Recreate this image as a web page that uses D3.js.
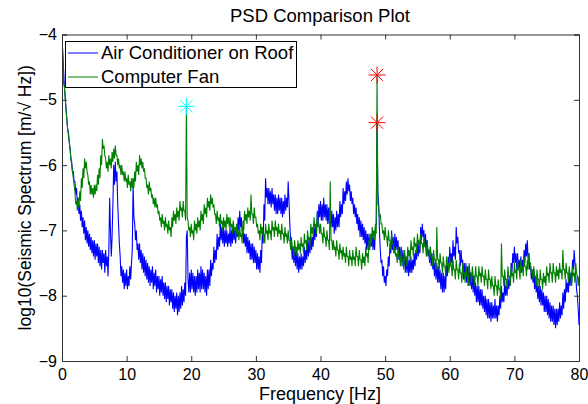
<!DOCTYPE html>
<html><head><meta charset="utf-8">
<script src="https://cdn.jsdelivr.net/npm/d3@7"></script>
<style>body{margin:0;background:#fff}svg{display:block}text{font-family:"Liberation Sans",Arial,Helvetica,sans-serif}</style>
</head><body><svg id="c" width="588" height="404"></svg>
<script>
// ---- data (0.125 Hz resolution) ----
const freqStep = 0.125;
const airConditioner = [
-4.0,-4.3,-4.55,-4.8,-4.95,-5.15,-5.3,-5.45,
-5.5,-5.65,-5.75,-5.9,-5.95,-6.1,-6.1,-6.25,
-6.25,-6.45,-6.35,-6.6,-6.5,-6.75,-6.6,-6.85,
-6.7,-6.95,-6.8,-7.05,-6.85,-7.15,-6.95,-7.2,
-7.0,-7.25,-7.05,-7.3,-7.1,-7.35,-7.15,-7.4,
-7.15,-7.45,-7.2,-7.4,-7.2,-7.5,-7.25,-7.55,
-7.3,-7.6,-7.3,-7.5,-7.35,-7.65,-7.3,-7.55,
-7.4,-7.7,-7.3,-6.5,-7.0,-7.4,-7.1,-6.6,
-6.0,-6.3,-5.95,-6.25,-6.1,-6.6,-6.9,-7.2,
-7.4,-7.7,-7.55,-7.8,-7.6,-7.9,-7.65,-7.85,
-7.6,-7.9,-7.7,-7.85,-7.55,-7.75,-7.5,-7.3,
-6.3,-6.8,-6.9,-7.15,-7.0,-7.3,-7.2,-7.45,
-7.2,-7.5,-7.3,-7.6,-7.35,-7.65,-7.4,-7.7,
-7.45,-7.75,-7.5,-7.8,-7.55,-7.85,-7.6,-7.8,
-7.55,-7.9,-7.65,-7.85,-7.6,-7.95,-7.7,-7.9,
-7.7,-8.0,-7.75,-7.95,-7.7,-8.0,-7.8,-8.05,
-7.8,-8.1,-7.85,-8.05,-7.85,-8.15,-7.9,-8.1,
-7.9,-8.2,-7.95,-8.25,-8.0,-8.2,-7.95,-8.3,
-8.0,-8.25,-7.95,-8.2,-7.85,-8.15,-7.9,-8.1,
-7.8,-8.0,-7.1,-7.0,-7.75,-7.95,-7.65,-7.95,
-7.6,-7.9,-7.65,-7.95,-7.7,-8.0,-7.7,-7.95,
-7.6,-7.9,-7.65,-7.95,-7.55,-7.9,-7.6,-7.9,
-7.65,-7.95,-7.7,-8.0,-7.6,-7.9,-7.6,-7.85,
-7.45,-7.7,-7.5,-7.6,-7.25,-7.5,-7.3,-7.45,
-7.05,-7.3,-7.1,-7.25,-6.9,-7.15,-6.95,-7.2,
-6.95,-7.25,-7.0,-7.2,-7.0,-7.25,-7.05,-7.2,
-6.95,-7.25,-7.0,-7.2,-6.9,-7.15,-6.95,-7.2,
-6.95,-7.1,-6.8,-7.0,-6.7,-6.95,-6.8,-7.05,
-6.95,-7.2,-7.05,-7.25,-7.05,-7.35,-7.1,-7.35,
-7.15,-7.45,-7.2,-7.45,-7.2,-7.5,-7.25,-7.5,
-7.3,-7.6,-7.35,-7.6,-7.4,-7.65,-7.3,-7.5,
-7.0,-7.2,-6.6,-6.85,-6.2,-6.5,-6.35,-6.6,
-6.35,-6.6,-6.4,-6.65,-6.35,-6.6,-6.45,-6.7,
-6.45,-6.75,-6.5,-6.75,-6.45,-6.7,-6.5,-6.75,
-6.5,-6.8,-6.55,-6.75,-6.45,-6.7,-6.5,-6.65,
-6.25,-6.55,-6.9,-7.15,-7.2,-7.45,-7.25,-7.5,
-7.25,-7.55,-7.3,-7.6,-7.35,-7.65,-7.4,-7.6,
-7.35,-7.6,-7.4,-7.55,-7.25,-7.5,-7.3,-7.45,
-7.1,-7.4,-7.15,-7.35,-7.05,-7.3,-7.1,-7.25,
-6.9,-7.15,-6.95,-7.1,-6.7,-6.95,-6.6,-6.8,
-6.55,-6.85,-6.6,-6.85,-6.5,-6.8,-6.6,-6.85,
-6.6,-6.9,-6.65,-6.9,-6.65,-6.95,-6.7,-6.95,
-6.75,-7.05,-6.8,-7.0,-6.7,-6.95,-6.75,-6.95,
-6.55,-6.8,-6.6,-6.75,-6.35,-6.6,-6.4,-6.55,
-6.25,-6.45,-6.2,-6.4,-6.3,-6.55,-6.4,-6.6,
-6.5,-6.75,-6.6,-6.8,-6.65,-6.9,-6.75,-7.0,
-6.8,-7.1,-6.85,-7.1,-6.9,-7.15,-6.95,-7.2,
-7.0,-7.3,-7.05,-7.3,-7.05,-7.25,-7.1,-7.25,
-7.05,-7.3,-7.1,-7.3,-6.95,-6.9,-5.35,-6.4,
-6.6,-7.0,-7.3,-7.5,-7.45,-7.7,-7.55,-7.8,
-7.7,-7.85,-7.6,-7.7,-7.4,-7.55,-7.2,-7.35,
-7.0,-7.3,-7.1,-7.35,-7.05,-7.3,-7.1,-7.3,
-7.15,-7.45,-7.25,-7.5,-7.25,-7.55,-7.3,-7.55,
-7.35,-7.65,-7.4,-7.65,-7.4,-7.7,-7.45,-7.65,
-7.4,-7.65,-7.45,-7.6,-7.35,-7.55,-7.3,-7.45,
-7.15,-7.4,-7.2,-7.35,-6.95,-7.15,-6.9,-7.1,
-7.0,-7.25,-7.05,-7.3,-7.15,-7.4,-7.3,-7.5,
-7.25,-7.55,-7.35,-7.6,-7.4,-7.7,-7.5,-7.75,
-7.5,-7.8,-7.55,-7.8,-7.6,-7.9,-7.65,-7.95,
-7.65,-7.95,-7.7,-7.9,-7.5,-7.7,-7.4,-7.6,
-7.25,-7.5,-7.35,-7.55,-7.15,-7.4,-7.25,-7.45,
-6.95,-7.2,-7.1,-7.35,-7.3,-7.55,-7.3,-7.5,
-7.45,-7.75,-7.5,-7.75,-7.5,-7.8,-7.55,-7.85,
-7.55,-7.85,-7.65,-7.9,-7.65,-7.95,-7.7,-8.0,
-7.8,-8.1,-7.85,-8.1,-7.85,-8.15,-7.9,-8.15,
-7.9,-8.2,-8.0,-8.25,-8.0,-8.3,-8.05,-8.35,
-8.05,-8.35,-8.1,-8.4,-8.1,-8.35,-8.15,-8.35,
-8.05,-8.35,-8.15,-8.4,-8.15,-8.3,-8.0,-8.2,
-7.85,-8.1,-7.95,-8.1,-7.75,-8.0,-7.85,-8.0,
-7.7,-7.9,-7.75,-7.85,-7.5,-7.65,-7.35,-7.5,
-7.25,-7.5,-7.35,-7.6,-7.35,-7.6,-7.45,-7.6,
-7.4,-7.65,-7.45,-7.6,-7.3,-7.5,-7.2,-7.4,
-7.15,-7.45,-7.35,-7.6,-7.55,-7.75,-7.6,-7.8,
-7.6,-7.9,-7.7,-7.95,-7.75,-8.05,-7.85,-8.1,
-7.85,-8.15,-7.9,-8.15,-7.95,-8.25,-8.0,-8.25,
-8.0,-8.3,-8.05,-8.35,-8.1,-8.4,-8.15,-8.4,
-8.15,-8.45,-8.2,-8.5,-8.2,-8.45,-8.2,-8.4,
-8.1,-8.35,-8.15,-8.3,-7.95,-8.2,-7.9,-8.1,
-7.75,-7.95,-7.8,-7.95,-7.6,-7.85,-7.65,-7.8,
-7.45,-7.6,-7.3,-7.5,-7.7,-7.9,-8.0,-8.2,
-8.45];
const computerFan = [
-4.0,-4.35,-4.75,-4.8,-5.0,-5.15,-5.3,-5.45,
-5.55,-5.65,-5.75,-5.9,-6.0,-6.1,-6.2,-6.3,
-6.4,-6.6,-6.55,-6.7,-6.5,-6.65,-6.4,-6.55,
-6.2,-6.35,-6.05,-6.2,-5.9,-6.05,-5.95,-6.1,
-6.15,-6.3,-6.25,-6.45,-6.3,-6.45,-6.35,-6.5,
-6.3,-6.45,-6.3,-6.4,-6.15,-6.3,-6.05,-6.2,
-5.85,-6.0,-5.6,-5.75,-5.7,-5.85,-5.9,-6.05,
-5.95,-6.1,-5.85,-6.0,-5.9,-6.05,-5.8,-5.95,
-5.75,-5.9,-5.7,-5.85,-5.85,-6.0,-5.9,-6.05,
-6.0,-6.15,-6.0,-6.15,-6.1,-6.25,-6.1,-6.25,
-6.2,-6.35,-6.15,-6.3,-6.25,-6.4,-6.2,-6.35,
-6.2,-6.35,-6.1,-6.25,-5.95,-6.1,-6.0,-6.15,
-5.85,-6.0,-5.9,-6.05,-5.95,-6.1,-6.05,-6.2,
-6.2,-6.35,-6.3,-6.45,-6.25,-6.4,-6.35,-6.5,
-6.45,-6.6,-6.5,-6.65,-6.5,-6.65,-6.6,-6.75,
-6.7,-6.85,-6.8,-6.95,-6.75,-6.9,-6.85,-7.0,
-6.8,-6.95,-6.9,-7.05,-6.85,-7.0,-6.95,-7.1,
-6.8,-6.95,-6.7,-6.85,-6.75,-6.9,-6.65,-6.8,
-6.7,-6.85,-6.55,-6.7,-6.65,-6.8,-6.55,-6.7,
-6.7,-6.85,-5.1,-6.8,-6.85,-7.0,-6.95,-7.1,
-6.9,-7.05,-7.0,-7.15,-6.85,-7.0,-6.9,-7.05,
-6.8,-6.95,-6.85,-7.0,-6.7,-6.85,-6.75,-6.9,
-6.6,-6.75,-6.65,-6.8,-6.5,-6.65,-6.55,-6.7,
-6.45,-6.6,-6.5,-6.65,-6.6,-6.75,-6.75,-6.9,
-6.7,-6.85,-6.8,-6.95,-6.75,-6.9,-6.85,-7.0,
-6.8,-6.95,-6.85,-7.0,-6.75,-6.9,-6.8,-6.95,
-6.8,-6.95,-6.9,-7.05,-6.85,-7.0,-6.95,-7.1,
-6.9,-7.05,-7.0,-7.15,-6.95,-7.1,-7.05,-7.2,
-6.85,-7.0,-6.7,-6.85,-6.75,-6.9,-6.65,-6.8,
-6.7,-6.85,-6.45,-6.75,-6.75,-6.9,-6.65,-6.8,
-6.8,-6.95,-6.9,-7.05,-7.0,-7.15,-6.9,-7.05,
-6.95,-7.1,-7.05,-7.2,-6.9,-7.05,-7.0,-7.15,
-6.9,-7.05,-7.0,-7.15,-6.85,-7.0,-6.95,-7.1,
-6.85,-7.0,-6.95,-7.1,-6.9,-7.05,-7.0,-7.15,
-6.9,-7.05,-7.05,-7.2,-6.95,-7.1,-7.05,-7.2,
-7.0,-7.15,-7.15,-7.3,-7.1,-7.25,-7.25,-7.4,
-7.15,-7.3,-7.25,-7.4,-7.15,-7.3,-7.2,-7.35,
-7.1,-7.25,-7.2,-7.35,-7.05,-7.2,-7.15,-7.3,
-7.0,-7.15,-7.1,-7.25,-6.9,-7.05,-6.95,-7.1,
-6.8,-6.95,-6.9,-7.05,-6.75,-6.9,-6.9,-7.05,
-6.9,-7.05,-7.05,-7.2,-6.95,-7.1,-7.1,-7.25,
-7.0,-7.15,-7.15,-7.3,-6.25,-7.15,-7.15,-7.3,
-7.15,-7.3,-7.25,-7.4,-7.15,-7.3,-7.3,-7.45,
-7.2,-7.35,-7.3,-7.45,-7.25,-7.4,-7.35,-7.5,
-7.25,-7.4,-7.4,-7.55,-7.3,-7.45,-7.4,-7.55,
-7.3,-7.45,-7.4,-7.55,-7.25,-7.4,-7.4,-7.55,
-7.3,-7.45,-7.45,-7.6,-7.35,-7.5,-7.4,-7.55,
-7.25,-7.4,-7.35,-7.5,-7.15,-7.3,-7.05,-7.2,
-6.95,-7.1,-7.0,-7.15,-6.9,-7.05,-4.62,-6.6,
-6.65,-6.8,-6.75,-6.9,-6.9,-7.05,-7.0,-7.15,
-6.95,-7.1,-7.1,-7.25,-7.0,-7.15,-7.15,-7.3,
-7.05,-7.2,-7.2,-7.35,-7.25,-7.4,-7.35,-7.5,
-7.25,-7.4,-7.4,-7.55,-7.3,-7.45,-7.45,-7.6,
-7.3,-7.45,-7.4,-7.55,-7.25,-7.4,-7.3,-7.45,
-7.15,-7.3,-7.25,-7.4,-7.1,-7.25,-7.2,-7.35,
-7.05,-7.2,-7.15,-7.3,-7.05,-7.2,-7.2,-7.35,
-7.1,-7.25,-7.25,-7.4,-7.15,-7.3,-7.3,-7.45,
-7.25,-7.4,-7.4,-7.55,-7.3,-7.45,-7.45,-7.6,
-6.95,-7.45,-7.45,-7.6,-7.35,-7.5,-7.5,-7.65,
-7.4,-7.55,-7.55,-7.7,-7.4,-7.55,-7.5,-7.65,
-7.4,-7.55,-7.55,-7.7,-7.45,-7.6,-7.6,-7.75,
-7.45,-7.6,-7.6,-7.75,-7.5,-7.65,-7.65,-7.8,
-7.5,-7.65,-7.65,-7.8,-7.55,-7.7,-7.7,-7.85,
-7.5,-7.65,-7.65,-7.8,-7.55,-7.7,-7.7,-7.85,
-7.55,-7.7,-7.7,-7.85,-7.55,-7.7,-7.65,-7.8,
-7.55,-7.7,-7.7,-7.85,-7.6,-7.75,-7.75,-7.9,
-7.6,-7.75,-7.75,-7.9,-7.7,-7.85,-7.85,-8.0,
-7.7,-7.85,-7.85,-8.0,-7.75,-7.9,-7.9,-8.05,
-7.2,-7.7,-7.7,-7.85,-7.6,-7.75,-7.75,-7.9,
-7.55,-7.7,-7.7,-7.85,-7.55,-7.7,-7.65,-7.8,
-7.5,-7.65,-7.6,-7.75,-7.45,-7.6,-7.6,-7.75,
-7.45,-7.6,-7.55,-7.7,-7.4,-7.55,-7.55,-7.7,
-7.45,-7.6,-7.35,-7.5,-7.5,-7.65,-7.6,-7.75,
-7.55,-7.7,-7.7,-7.85,-7.6,-7.75,-7.75,-7.9,
-7.6,-7.75,-7.75,-7.9,-7.65,-7.8,-7.7,-7.85,
-7.55,-7.7,-7.65,-7.8,-7.5,-7.65,-7.65,-7.8,
-7.5,-7.65,-7.65,-7.8,-7.55,-7.7,-7.6,-7.75,
-7.5,-7.65,-7.6,-7.75,-7.3,-7.6,-7.6,-7.75,
-7.5,-7.65,-7.65,-7.8,-7.55,-7.7,-7.7,-7.85,
-7.55,-7.7,-7.65,-7.8,-7.5,-7.65,-7.7,-7.85,
-7.7];
const peakMarkers = [
  {f: 19.25, v: -5.1, color: "#00ffff"},
  {f: 48.75, v: -4.62, color: "#ff0000"},
  {f: 48.75, v: -5.35, color: "#ff0000"}
];
const xTicks = [0,10,20,30,40,50,60,70,80];
const yTicks = [-9,-8,-7,-6,-5,-4];
const seriesNames = ["Air Conditioner on Roof", "Computer Fan"];
const seriesColors = ["#0000ff", "#008000"];

// ---- layout ----
const L = 62, R = 579, T = 34.5, B = 361;
const svg = d3.select("#c");
const x = d3.scaleLinear().domain([0, 80]).range([L, R]);
const y = d3.scaleLinear().domain([-9, -4]).range([B, T]);

svg.append("defs").append("clipPath").attr("id", "clip")
  .append("rect").attr("x", L).attr("y", T).attr("width", R - L).attr("height", B - T);

const line = d3.line().x((d, i) => x(i * freqStep)).y(d => y(d));
const g = svg.append("g").attr("clip-path", "url(#clip)");
[airConditioner, computerFan].forEach((s, k) => {
  g.append("path").attr("d", line(s)).attr("fill", "none")
    .attr("stroke", seriesColors[k]).attr("stroke-width", 1.1);
});

// star markers
const r = 8.5;
peakMarkers.forEach(m => {
  const cx = x(m.f), cy = y(m.v), d = r * 0.72;
  const p = `M${cx - r},${cy}L${cx + r},${cy}M${cx},${cy - r}L${cx},${cy + r}` +
            `M${cx - d},${cy - d}L${cx + d},${cy + d}M${cx - d},${cy + d}L${cx + d},${cy - d}`;
  svg.append("path").attr("d", p).attr("stroke", m.color).attr("stroke-width", 1).attr("fill", "none");
});

// axes (MATLAB style, ticks inside on all sides)
const tl = 5;
const ax = svg.append("g");
ax.append("g").attr("transform", `translate(0,${B})`)
  .call(d3.axisBottom(x).tickValues(xTicks).tickSize(-tl).tickPadding(8).tickFormat(d3.format("d")));
ax.append("g").attr("transform", `translate(0,${T})`)
  .call(d3.axisTop(x).tickValues(xTicks).tickSize(-tl).tickFormat(""));
ax.append("g").attr("transform", `translate(${L},0)`)
  .call(d3.axisLeft(y).tickValues(yTicks).tickSize(-tl).tickPadding(5).tickFormat(d => "\u2212" + Math.abs(d)));
ax.append("g").attr("transform", `translate(${R},0)`)
  .call(d3.axisRight(y).tickValues(yTicks).tickSize(-tl).tickFormat(""));
ax.selectAll(".domain").attr("stroke", "#333");
ax.selectAll(".tick line").attr("stroke", "#333");
ax.selectAll(".tick text").attr("font-size", 16).attr("fill", "#000")
  .attr("font-family", "'Liberation Sans',Arial,sans-serif");

// labels
svg.append("text").attr("x", 320).attr("y", 21.5).attr("text-anchor", "middle")
  .attr("font-size", 18.5).text("PSD Comparison Plot");
svg.append("text").attr("x", 320).attr("y", 399.5).attr("text-anchor", "middle")
  .attr("font-size", 18).text("Frequency [Hz]");
svg.append("text").attr("transform", `translate(31,${(T + B) / 2}) rotate(-90)`)
  .attr("text-anchor", "middle").attr("font-size", 17.5).text("log10(Seismic Spectrum [m/\u221A Hz])");

// legend
const lg = svg.append("g");
lg.append("rect").attr("x", 65.5).attr("y", 41.5).attr("width", 231).attr("height", 46)
  .attr("fill", "#fff").attr("stroke", "#000").attr("stroke-width", 1);
seriesNames.forEach((n, k) => {
  const yy = 53 + k * 24;
  lg.append("line").attr("x1", 68).attr("x2", 98).attr("y1", yy).attr("y2", yy)
    .attr("stroke", seriesColors[k]).attr("stroke-width", 1);
  lg.append("text").attr("x", 101).attr("y", yy + 6).attr("font-size", 18.5).text(n);
});
</script></body></html>
